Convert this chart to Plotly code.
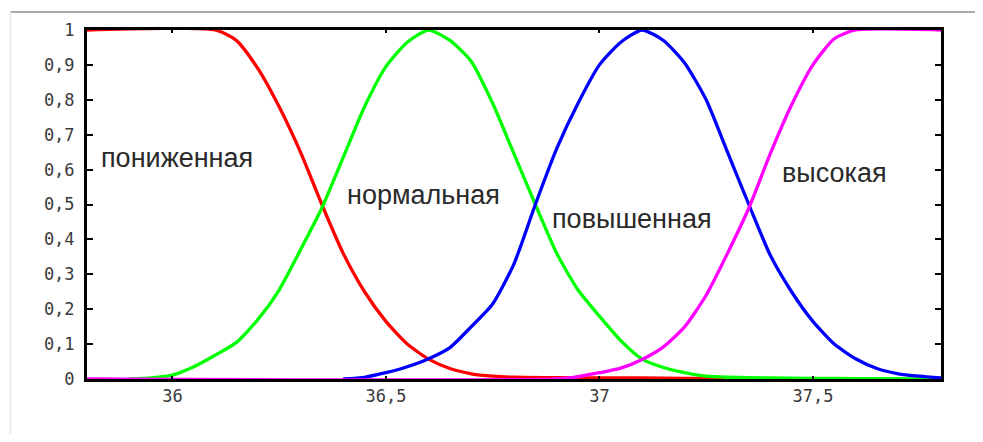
import plotly.graph_objects as go

# membership functions of body temperature
low_x = [35.8, 36.1, 36.15, 36.2, 36.25, 36.3, 36.35, 36.4, 36.45, 36.5,
         36.55, 36.6, 36.65, 36.7, 36.75, 36.8, 36.9, 37.0, 37.1, 37.2, 37.3]
low_y = [1, 1, 0.97, 0.89, 0.78, 0.65, 0.5, 0.36, 0.25, 0.165,
         0.1, 0.057, 0.03, 0.015, 0.008, 0.005, 0.004, 0.003, 0.003, 0.002, 0.002]

normal_x = [35.9, 35.95, 36.0, 36.05, 36.1, 36.15, 36.2, 36.25, 36.3, 36.35,
            36.4, 36.45, 36.5, 36.55, 36.6, 36.65, 36.7, 36.75, 36.8, 36.85,
            36.9, 36.95, 37.0, 37.05, 37.1, 37.15, 37.2, 37.25, 37.3, 37.4,
            37.5, 37.6, 37.8]
normal_y = [0.0, 0.003, 0.011, 0.035, 0.068, 0.105, 0.17, 0.255, 0.37, 0.49,
            0.635, 0.78, 0.895, 0.965, 1.0, 0.97, 0.91, 0.79, 0.645, 0.5,
            0.36, 0.255, 0.18, 0.11, 0.057, 0.033, 0.018, 0.008, 0.005, 0.003,
            0.002, 0.001, 0.0]

high_x = [36.4, 36.45, 36.5, 36.55, 36.6, 36.65, 36.7, 36.75, 36.8, 36.85,
          36.9, 36.95, 37.0, 37.05, 37.1, 37.15, 37.2, 37.25, 37.3, 37.35,
          37.4, 37.45, 37.5, 37.55, 37.6, 37.65, 37.7, 37.75, 37.8]
high_y = [0.0, 0.005, 0.018, 0.035, 0.058, 0.09, 0.15, 0.215, 0.33, 0.5,
          0.66, 0.79, 0.9, 0.965, 1.0, 0.97, 0.905, 0.8, 0.65, 0.5,
          0.355, 0.25, 0.165, 0.1, 0.058, 0.03, 0.015, 0.008, 0.003]

fever_x = [35.8, 36.9, 36.95, 37.0, 37.05, 37.1, 37.15, 37.2, 37.25, 37.3,
           37.35, 37.4, 37.45, 37.5, 37.55, 37.6, 37.8]
fever_y = [0, 0, 0.007, 0.018, 0.031, 0.056, 0.092, 0.15, 0.24, 0.36,
           0.49, 0.645, 0.785, 0.9, 0.975, 1.0, 1.0]

labels = ['пониженная', 'нормальная', 'повышенная', 'высокая']
label_x = [36.01, 36.588, 37.077, 37.551]
label_y = [0.632, 0.527, 0.459, 0.59]

x_ticks = [36, 36.5, 37, 37.5]
x_ticktext = ['36', '36,5', '37', '37,5']
y_ticks = [0, 0.1, 0.2, 0.3, 0.4, 0.5, 0.6, 0.7, 0.8, 0.9, 1]
y_ticktext = ['0', '0,1', '0,2', '0,3', '0,4', '0,5', '0,6', '0,7', '0,8', '0,9', '1']

# page has an 8px body margin, so the figure is a bit smaller than the window
OFF = 8
W, H = 983 - 2 * OFF, 442 - 2 * OFF
L, T = 87 - OFF, 28 - OFF
R, B = W - (941 - OFF), H - (379 - OFF)
pw, ph = W - L - R, H - T - B


def px(x):
    return (x - OFF - L) / pw


def py(y):
    return (H - B - (y - OFF)) / ph


fig = go.Figure()
series = [(low_x, low_y, '#ff0000'), (normal_x, normal_y, '#00ff00'),
          (high_x, high_y, '#0000ff'), (fever_x, fever_y, '#ff00ff')]
for xs, ys, col in series:
    fig.add_trace(go.Scatter(x=xs, y=ys, mode='lines',
                             line=dict(color=col, width=3.3, shape='spline',
                                       smoothing=0.6),
                             cliponaxis=False, showlegend=False,
                             hoverinfo='skip'))

for txt, lx, ly in zip(labels, label_x, label_y):
    fig.add_annotation(x=lx, y=ly, text=txt, showarrow=False,
                       font=dict(family='Liberation Sans, Arial', size=27,
                                 color='#2a2a2a'))

# grey frame of the original screenshot
fig.add_shape(type='line', xref='paper', yref='paper',
              x0=px(10), x1=px(983), y0=py(10), y1=py(10),
              line=dict(color='#a8a8a8', width=2))
fig.add_shape(type='line', xref='paper', yref='paper',
              x0=px(10.5), x1=px(10.5), y0=py(10), y1=py(442),
              line=dict(color='#ececec', width=2))

tick_font = dict(family='DejaVu Sans Mono', size=17, color='#3a3a3a')
fig.update_xaxes(range=[35.8, 37.8], tickvals=x_ticks, ticktext=x_ticktext,
                 showgrid=False, zeroline=False, showline=True,
                 linecolor='black', linewidth=3, mirror='ticks',
                 ticks='inside', ticklen=3, tickwidth=2, tickcolor='black',
                 tickfont=tick_font, ticklabelstandoff=0)
fig.update_yaxes(range=[0, 1], tickvals=y_ticks, ticktext=y_ticktext,
                 showgrid=False, zeroline=False, showline=True,
                 linecolor='black', linewidth=3, mirror='ticks',
                 ticks='inside', ticklen=6, tickwidth=2, tickcolor='black',
                 tickfont=tick_font, ticklabelstandoff=6)
fig.update_layout(width=W, height=H, margin=dict(l=L, r=R, t=T, b=B),
                  paper_bgcolor='white', plot_bgcolor='white')

fig.write_html('out.html')
